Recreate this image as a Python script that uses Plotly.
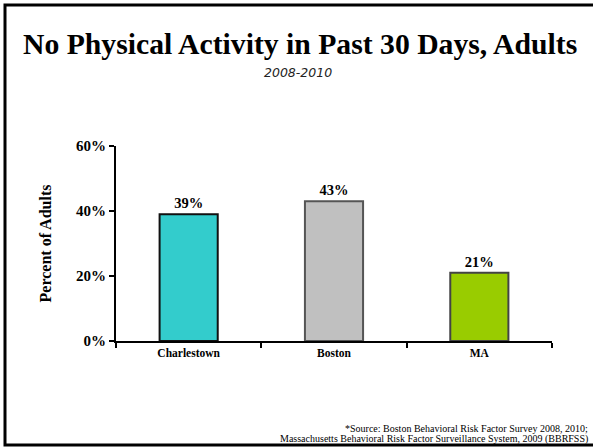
import plotly.graph_objects as go

categories = ["Charlestown", "Boston", "MA"]
values = [39, 43, 21]
value_labels = ["39%", "43%", "21%"]
bar_colors = ["#33CCCC", "#C0C0C0", "#99CC00"]
line_colors = ["#111111", "#555555", "#444444"]
tick_vals = [0, 20, 40, 60]
tick_text = ["0%", "20%", "40%", "60%"]
source_lines = [
    "*Source: Boston Behavioral Risk Factor Survey 2008, 2010;",
    "Massachusetts Behavioral Risk Factor Surveillance System, 2009 (BBRFSS)",
]

W, H = 593, 447
L, R, T, B = 116, 41, 146, 106
pw, ph = W - L - R, H - T - B

def px(x):
    return (x - L) / pw

def py(y):
    return (H - B - y) / ph

serif = "Liberation Serif, Times New Roman, serif"

fig = go.Figure()
fig.add_trace(go.Bar(
    x=categories, y=values, text=value_labels, textposition="outside",
    texttemplate="<b>%{text}</b>",
    textfont=dict(family=serif, size=14.5, color="#000000"),
    marker=dict(color=bar_colors, line=dict(color=line_colors, width=2)),
    width=0.4, cliponaxis=False, hoverinfo="skip",
))

fig.update_layout(
    width=W, height=H,
    margin=dict(l=L, r=R, t=T, b=B, autoexpand=False),
    paper_bgcolor="white", plot_bgcolor="white",
    showlegend=False,
    font=dict(family=serif, color="#000000"),
    xaxis=dict(
        tickvals=categories, ticktext=["<b>%s</b>" % c for c in categories],
        showline=True, linecolor="#000000", linewidth=2,
        ticks="outside", tickson="boundaries", ticklen=5, tickwidth=2, tickcolor="#000000",
        tickfont=dict(family=serif, size=11.5, color="#000000"),
        showgrid=False, zeroline=False, fixedrange=True,
    ),
    yaxis=dict(
        range=[0, 60], tickvals=tick_vals, ticktext=["<b>%s</b>" % t for t in tick_text],
        showline=True, linecolor="#000000", linewidth=2,
        ticks="outside", ticklen=5, tickwidth=2, tickcolor="#000000",
        tickfont=dict(family=serif, size=15, color="#000000"),
        showgrid=False, zeroline=False, fixedrange=True,
        title=dict(text="<b>Percent of Adults</b>", font=dict(family=serif, size=16), standoff=20),
    ),
    shapes=[dict(
        type="rect", xref="paper", yref="paper",
        x0=px(5), x1=px(600), y0=py(445), y1=py(5),
        line=dict(color="#000000", width=3), fillcolor="rgba(0,0,0,0)", layer="above",
    )],
    annotations=[
        dict(text="<b>No Physical Activity in Past 30 Days, Adults</b>", xref="paper", yref="paper",
             x=px(300), y=py(44), xanchor="center", yanchor="middle", showarrow=False,
             font=dict(family=serif, size=29.7, color="#000000")),
        dict(text="<i>2008-2010</i>", xref="paper", yref="paper",
             x=px(298), y=py(72), xanchor="center", yanchor="middle", showarrow=False,
             font=dict(family="DejaVu Sans, sans-serif", size=12.5, color="#222222")),
        dict(text=source_lines[0], xref="paper", yref="paper",
             x=px(590), y=py(428), xanchor="right", yanchor="middle", showarrow=False,
             font=dict(family=serif, size=10, color="#000000")),
        dict(text=source_lines[1], xref="paper", yref="paper",
             x=px(590), y=py(439), xanchor="right", yanchor="middle", showarrow=False,
             font=dict(family=serif, size=10, color="#000000")),
    ],
)

fig.write_html("out.html", config={"displayModeBar": False},
               post_script="document.body.style.margin='0';document.body.style.overflow='hidden';")
